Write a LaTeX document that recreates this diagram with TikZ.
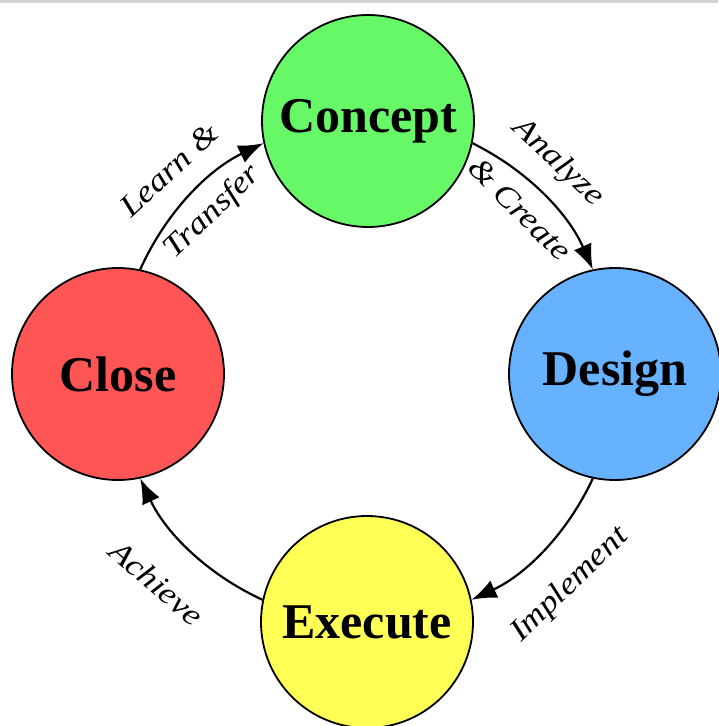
\documentclass[tikz,border=0pt]{standalone}
\usepackage{fontspec}
\setmainfont{Liberation Serif}
\newfontfamily\labelfont[FakeStretch=1.15]{Liberation Serif}
\usetikzlibrary{arrows.meta}

\definecolor{conceptgreen}{RGB}{102,248,102}
\definecolor{designblue}{RGB}{102,178,255}
\definecolor{executeyellow}{RGB}{255,255,85}
\definecolor{closered}{RGB}{255,85,85}

\begin{document}
\begin{tikzpicture}[
    x=1pt,
    y=-1pt,
    stage/.style={
        circle,
        draw,
        line width=1.8pt,
        minimum size=212pt,
        inner sep=0pt,
        font=\fontsize{50}{60}\selectfont\bfseries
    },
    arrow/.style={
        -{Latex[length=25pt,width=19pt]},
        line width=2.2pt
    },
    lbl/.style={
        font=\labelfont\fontsize{31}{36}\selectfont\itshape,
        inner sep=0pt
    }
]

\useasboundingbox (0,0) rectangle (718,726);
\fill[gray!35] (0,0) rectangle (718,3);

\node[stage, fill=conceptgreen] (concept) at (368,121) {Concept};
\node[stage, fill=designblue] (design) at (615,374) {Design};
\node[stage, fill=executeyellow] (execute) at (367,622) {Execute};
\node[stage, fill=closered] (close) at (118,374) {Close};

\draw[arrow] (close.78) to[bend left=20, looseness=0.9] (concept.192);
\draw[arrow] (concept.-12) to[bend left=20, looseness=0.9] (design.102);
\draw[arrow] (design.-102) to[bend left=20, looseness=0.9] (execute.12);
\draw[arrow] (execute.168) to[bend left=20, looseness=0.9] (close.-78);

\node[lbl, rotate=43] (learn) at (169,170) {Learn \&};
\node[lbl, rotate=44] (transfer) at (213,212) {Transfer};
\node[lbl, rotate=-43] (analyze) at (558,163) {Analyze};
\node[lbl, rotate=-45] (create) at (520,209) {\& Create};
\node[lbl, rotate=44] (implement) at (570,585) {Implement};
\node[lbl, rotate=-41] (achieve) at (157,583) {Achieve};

\end{tikzpicture}
\end{document}
